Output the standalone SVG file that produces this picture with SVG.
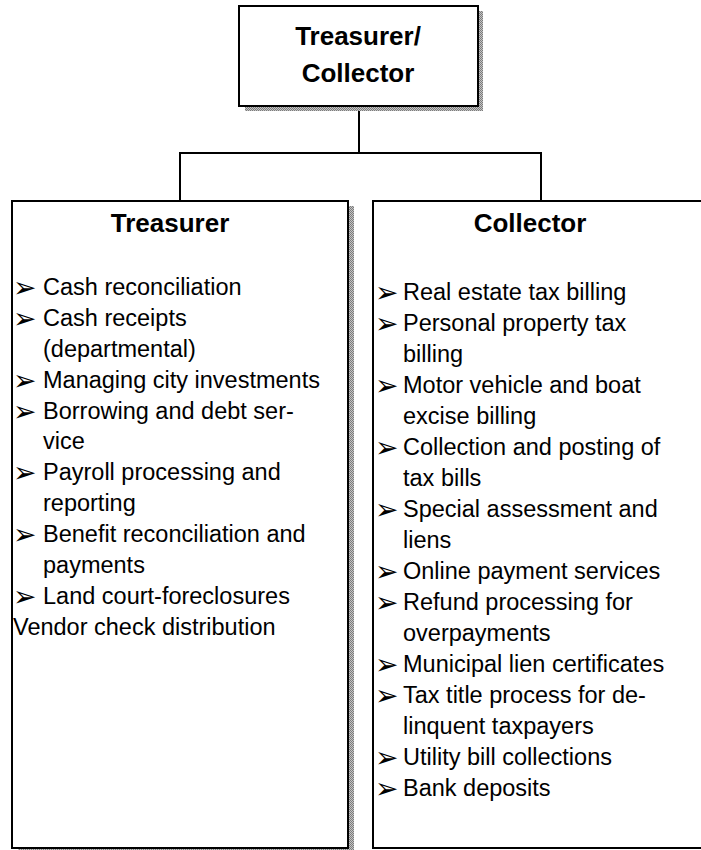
<svg xmlns="http://www.w3.org/2000/svg" width="701" height="850" viewBox="0 0 701 850">
  <defs>
    <!-- dithered grey used for the drop shadows -->
    <pattern id="dither" width="2" height="2" patternUnits="userSpaceOnUse">
      <rect width="2" height="2" fill="#c4c4c4"/>
      <rect width="1" height="1" fill="#7c7c7c"/>
      <rect x="1" y="1" width="1" height="1" fill="#7c7c7c"/>
    </pattern>
    <style>
      .box { fill: #ffffff; stroke: #000000; stroke-width: 2; }
      .shadow { fill: url(#dither); }
      .conn { fill: none; stroke: #000000; stroke-width: 2; }
      .title { font-family: "Liberation Sans", Arial, sans-serif; font-weight: bold; font-size: 26px; fill: #000; text-anchor: middle; }
      .item { font-family: "Liberation Sans", Arial, sans-serif; font-size: 23.5px; fill: #000; }
      .bullet text { font-family: "DejaVu Sans", sans-serif; font-size: 28px; fill: #000; }
    </style>
  </defs>

  <!-- connectors -->
  <g id="connectors">
    <line class="conn" x1="359" y1="106" x2="359" y2="153"/>
    <polyline class="conn" points="180,201 180,153 541,153 541,201"/>
  </g>

  <!-- top node -->
  <g id="treasurer-collector">
    <rect class="shadow" x="245" y="11" width="238" height="100"/>
    <rect class="box" x="239" y="6" width="239" height="100"/>
    <text class="title" x="358" y="45">Treasurer/</text>
    <text class="title" x="358" y="82">Collector</text>
  </g>

  <!-- left node -->
  <g id="treasurer">
    <rect class="shadow" x="18" y="206" width="336" height="650"/>
    <rect class="box" x="12" y="201" width="336" height="647"/>
    <text class="title" x="170" y="232">Treasurer</text>
    <g class="bullet" transform="translate(0,2)">
      <text x="13" y="295">➢</text>
      <text x="13" y="326">➢</text>
      <text x="13" y="388">➢</text>
      <text x="13" y="419">➢</text>
      <text x="13" y="480">➢</text>
      <text x="13" y="542">➢</text>
      <text x="13" y="604">➢</text>
    </g>
    <g class="item">
      <text x="43" y="295">Cash reconciliation</text>
      <text x="43" y="326">Cash receipts</text>
      <text x="43" y="357">(departmental)</text>
      <text x="43" y="388">Managing city investments</text>
      <text x="43" y="419">Borrowing and debt ser-</text>
      <text x="43" y="449">vice</text>
      <text x="43" y="480">Payroll processing and</text>
      <text x="43" y="511">reporting</text>
      <text x="43" y="542">Benefit reconciliation and</text>
      <text x="43" y="573">payments</text>
      <text x="43" y="604">Land court-foreclosures</text>
      <text x="13" y="635">Vendor check distribution</text>
    </g>
  </g>

  <!-- right node -->
  <g id="collector">
    <rect class="box" x="373" y="201" width="340" height="647"/>
    <text class="title" x="530" y="232">Collector</text>
    <g class="bullet" transform="translate(0,2)">
      <text x="375" y="300">➢</text>
      <text x="375" y="331">➢</text>
      <text x="375" y="393">➢</text>
      <text x="375" y="455">➢</text>
      <text x="375" y="517">➢</text>
      <text x="375" y="579">➢</text>
      <text x="375" y="610">➢</text>
      <text x="375" y="672">➢</text>
      <text x="375" y="703">➢</text>
      <text x="375" y="765">➢</text>
      <text x="375" y="796">➢</text>
    </g>
    <g class="item">
      <text x="403" y="300">Real estate tax billing</text>
      <text x="403" y="331">Personal property tax</text>
      <text x="403" y="362">billing</text>
      <text x="403" y="393">Motor vehicle and boat</text>
      <text x="403" y="424">excise billing</text>
      <text x="403" y="455">Collection and posting of</text>
      <text x="403" y="486">tax bills</text>
      <text x="403" y="517">Special assessment and</text>
      <text x="403" y="548">liens</text>
      <text x="403" y="579">Online payment services</text>
      <text x="403" y="610">Refund processing for</text>
      <text x="403" y="641">overpayments</text>
      <text x="403" y="672">Municipal lien certificates</text>
      <text x="403" y="703">Tax title process for de-</text>
      <text x="403" y="734">linquent taxpayers</text>
      <text x="403" y="765">Utility bill collections</text>
      <text x="403" y="796">Bank deposits</text>
    </g>
  </g>
</svg>
